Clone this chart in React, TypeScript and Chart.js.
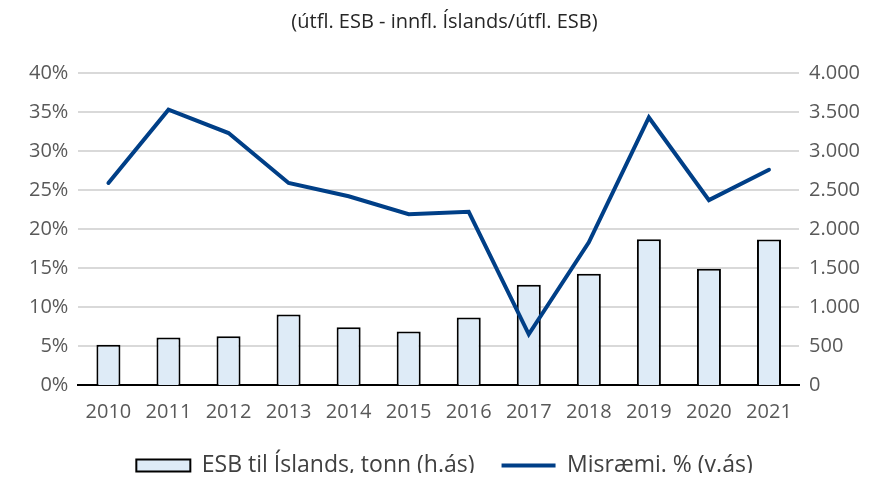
import React, { useEffect, useRef } from "react";
import { Chart, registerables } from "chart.js";

Chart.register(...registerables);

const title = "(útfl. ESB - innfl. Íslands/útfl. ESB)";
const years = ["2010", "2011", "2012", "2013", "2014", "2015", "2016", "2017", "2018", "2019", "2020", "2021"];
const misraemi = [25.9, 35.3, 32.3, 25.9, 24.2, 21.9, 22.2, 6.5, 18.3, 34.3, 23.7, 27.6];
const esbTonn = [515, 610, 625, 905, 740, 685, 865, 1285, 1425, 1870, 1490, 1865];
const lineLabel = "Misræmi. % (v.ás)";
const barLabel = "ESB til Íslands, tonn (h.ás)";

const FONT = "'Open Sans'";
const TICK = "#595959";

function fmtThousands(v: number): string {
  return String(Math.round(v)).replace(/\B(?=(\d{3})+(?!\d))/g, ".");
}

export default function App() {
  const ref = useRef<HTMLCanvasElement | null>(null);
  useEffect(() => {
    if (!ref.current) return;
    const chart = new Chart(ref.current, {
      type: "bar",
      data: {
        labels: years,
        datasets: [
          {
            type: "line",
            label: lineLabel,
            data: misraemi,
            yAxisID: "y",
            borderColor: "#003f87",
            backgroundColor: "#003f87",
            borderWidth: 4,
            borderCapStyle: "round",
            borderJoinStyle: "miter",
            pointRadius: 0,
            tension: 0,
            pointStyle: "line",
          } as any,
          {
            type: "bar",
            label: barLabel,
            data: esbTonn,
            yAxisID: "y1",
            backgroundColor: "#deebf7",
            borderColor: "#000000",
            borderWidth: 2,
            barPercentage: 0.4,
            categoryPercentage: 1,
            pointStyle: "rect",
          } as any,
        ],
      },
      options: {
        animation: false,
        responsive: true,
        maintainAspectRatio: false,
        layout: { padding: { left: 11, right: -3, top: 0, bottom: 0 } },
        plugins: {
          title: {
            display: true,
            text: title,
            color: "#262626",
            font: { family: FONT, size: 20, weight: "normal" },
            padding: { top: 2, bottom: 39 },
          },
          legend: {
            position: "bottom",
            labels: {
              usePointStyle: true,
              pointStyleWidth: 54,
              boxHeight: 12,
              color: "#404040",
              font: { family: FONT, size: 23 },
              padding: 27,
              sort: (a: any, b: any) => b.datasetIndex - a.datasetIndex,
            },
          },
          tooltip: { enabled: false },
        },
        scales: {
          x: {
            grid: { display: false },
            border: { display: true, color: "#000000", width: 2 },
            ticks: { color: TICK, font: { family: FONT, size: 20 }, padding: 7 },
            afterFit: (scale: any) => {
              scale.height -= 4;
            },
          },
          y: {
            position: "left",
            min: 0,
            max: 40,
            ticks: {
              stepSize: 5,
              color: TICK,
              font: { family: FONT, size: 20 },
              padding: 10,
              callback: (v: any) => `${v}%`,
            },
            grid: { color: "#d9d9d9", lineWidth: 2, drawTicks: false },
            border: { display: false },
          },
          y1: {
            position: "right",
            min: 0,
            max: 4000,
            ticks: {
              stepSize: 500,
              color: TICK,
              font: { family: FONT, size: 20 },
              padding: 10,
              callback: (v: any) => fmtThousands(Number(v)),
            },
            grid: { display: false, drawTicks: false },
            border: { display: false },
          },
        },
      },
    });
    return () => chart.destroy();
  }, []);
  return (
    <div style={{ width: "859px", height: "473px", marginBottom: "-8px", overflow: "hidden" }}>
      <div style={{ width: "859px", height: "479px", position: "relative" }}>
        <canvas ref={ref} />
      </div>
    </div>
  );
}
